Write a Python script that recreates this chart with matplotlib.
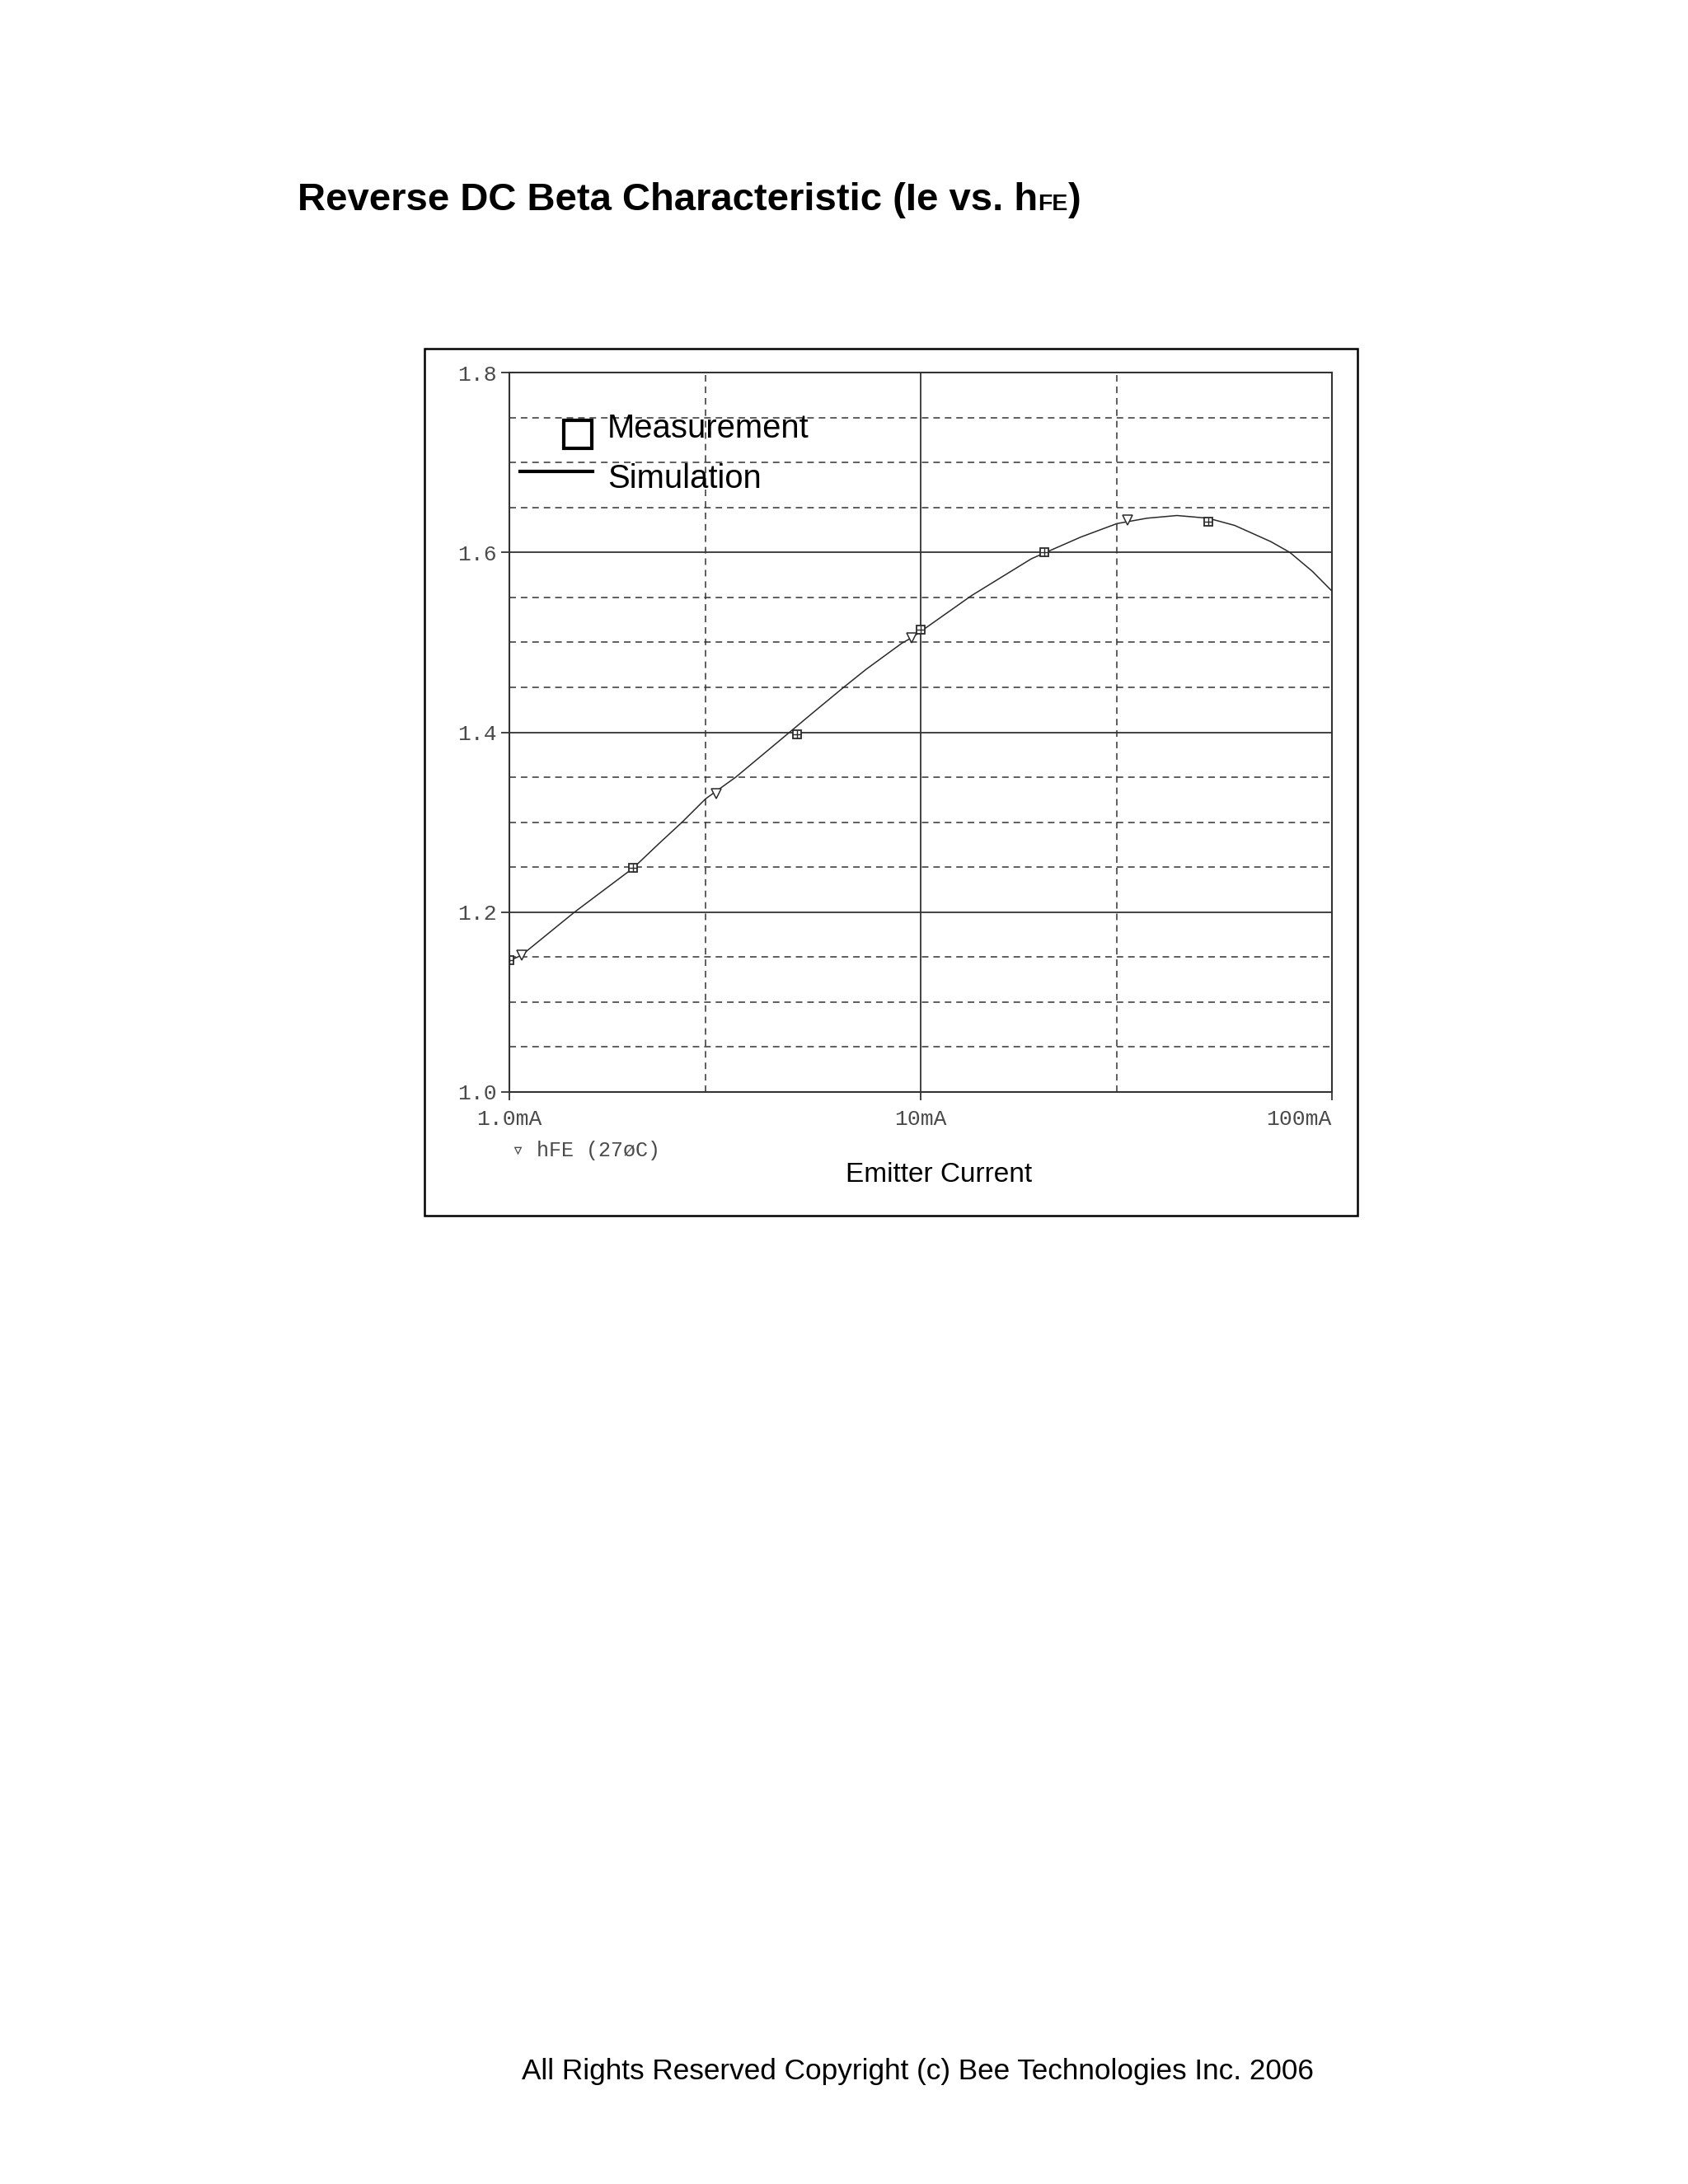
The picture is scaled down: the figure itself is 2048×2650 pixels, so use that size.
import numpy as np
import matplotlib
matplotlib.use("Agg")
import matplotlib.pyplot as plt
from matplotlib.patches import Rectangle
from matplotlib.lines import Line2D
from matplotlib.ticker import FixedLocator, NullFormatter

# ---------------- data ----------------
# Simulation trace (Emitter current in mA, hFE)
sim_current = [1.0, 1.07, 1.44, 2.0, 2.32, 2.63, 3.0, 3.55, 4.8, 5.58, 6.5, 7.37,
               9.0, 9.5, 10.0, 13.3, 18.6, 24.5, 30.0, 35.5, 42.0, 50.0, 58.0,
               71.0, 79.0, 89.6, 100.0]
sim_hfe = [1.146, 1.152, 1.200, 1.249, 1.277, 1.300, 1.326, 1.350, 1.400, 1.425,
           1.450, 1.470, 1.499, 1.505, 1.512, 1.552, 1.593, 1.617, 1.632, 1.638,
           1.641, 1.638, 1.630, 1.612, 1.600, 1.579, 1.557]
# PSpice trace symbols (down triangles) on the simulation curve
sym_current = [1.07, 3.19, 9.5, 31.9]
sym_hfe = [1.152, 1.332, 1.505, 1.636]
# Measurement points
meas_current = [1.0, 2.0, 5.0, 10.0, 20.0, 50.0]
meas_hfe = [1.147, 1.249, 1.398, 1.514, 1.600, 1.634]

x_major = [1.0, 10.0, 100.0]
x_major_labels = ["1.0mA", "10mA", "100mA"]
x_minor = [3.0, 30.0]
y_major = [1.0, 1.2, 1.4, 1.6, 1.8]
y_minor = [1.05, 1.1, 1.15, 1.25, 1.3, 1.35, 1.45, 1.5, 1.55, 1.65, 1.7, 1.75]

title_main = "Reverse DC Beta Characteristic (Ie vs. h"
title_sub = "FE"
title_end = ")"
xlabel = "Emitter Current"
trace_label = "\u25bf hFE (27\u00f8C)"
legend_meas = "Measurement"
legend_sim = "Simulation"
copyright_text = "All Rights Reserved Copyright (c) Bee Technologies Inc. 2006"

# ---------------- figure ----------------
W, H = 2048, 2650
DPI = 100
fig = plt.figure(figsize=(W / DPI, H / DPI), dpi=DPI)
fig.patch.set_facecolor("white")

def fx(px):
    return px / W

def fy(py_from_top):
    return 1 - py_from_top / H

SANS = ["Liberation Sans", "DejaVu Sans"]
MONO = ["Liberation Mono", "DejaVu Sans Mono"]
GRID = "#333333"
TXT_GRAY = "#4a4a4a"

# outer box
fig.patches.append(Rectangle((fx(515), fy(1475)), fx(1647 - 515), (1475 - 423) / H,
                             transform=fig.transFigure, fill=False,
                             edgecolor="black", linewidth=1.8, zorder=0))

ax_l, ax_r, ax_t, ax_b = 618, 1616, 452, 1325
ax = fig.add_axes([fx(ax_l), fy(ax_b), fx(ax_r - ax_l), (ax_b - ax_t) / H])
ax.set_xscale("log")
ax.set_xlim(1.0, 100.0)
ax.set_ylim(1.0, 1.8)

# ticks
ax.xaxis.set_major_locator(FixedLocator(x_major))
ax.xaxis.set_minor_locator(FixedLocator(x_minor))
ax.xaxis.set_minor_formatter(NullFormatter())
ax.set_xticklabels(x_major_labels)
ax.yaxis.set_major_locator(FixedLocator(y_major))
ax.yaxis.set_minor_locator(FixedLocator(y_minor))
ax.set_yticklabels([f"{v:.1f}" for v in y_major])

ax.tick_params(axis="x", which="major", direction="out", length=7.2, width=1.3,
               color=GRID, pad=8, labelsize=19, labelcolor=TXT_GRAY)
ax.tick_params(axis="y", which="major", direction="out", length=7.2, width=1.3,
               color=GRID, pad=4, labelsize=19, labelcolor=TXT_GRAY)
ax.tick_params(which="minor", length=0)
for lab in ax.get_xticklabels() + ax.get_yticklabels():
    lab.set_family(MONO)
xl = ax.get_xticklabels()
xl[-1].set_horizontalalignment("right")

# grid
ax.grid(which="major", axis="both", color=GRID, linestyle="-", linewidth=1.3)
ax.grid(which="minor", axis="both", color=GRID, linestyle=(0, (5.2, 3.9)), linewidth=1.1)
ax.set_axisbelow(True)
for sp in ax.spines.values():
    sp.set_color(GRID)
    sp.set_linewidth(1.5)

# curves
ax.plot(sim_current, sim_hfe, color="#2a2a2a", linewidth=1.1, zorder=3)
ax.plot(sym_current, sym_hfe, linestyle="none", marker="v", markersize=8,
        markerfacecolor="white", markeredgecolor="#2a2a2a", markeredgewidth=1.1, zorder=4)
ax.plot(meas_current, meas_hfe, linestyle="none", marker="s", markersize=7,
        markerfacecolor="white", markeredgecolor="#2a2a2a", markeredgewidth=1.3, zorder=5)
ax.plot(meas_current, meas_hfe, linestyle="none", marker="+", markersize=7,
        markeredgecolor="#2a2a2a", markeredgewidth=1.0, zorder=6)

# trace label under x-axis
fig.text(fx(621), fy(1396), trace_label, family=MONO, fontsize=18, color=TXT_GRAY,
         ha="left", va="center")

# x-axis label
fig.text(fx(1139), fy(1426), xlabel, family=SANS, fontsize=24, color="black",
         ha="center", va="center")

# legend (manually drawn)
fig.add_artist(Line2D([fx(701)], [fy(527)], marker="s", markersize=25,
                      markerfacecolor="none", markeredgecolor="black",
                      markeredgewidth=3.0, linestyle="none", transform=fig.transFigure))
fig.add_artist(Line2D([fx(631), fx(719)], [fy(572), fy(572)], color="black",
                      linewidth=3.0, transform=fig.transFigure))
fig.text(fx(737), fy(531), legend_meas, family=SANS, fontsize=28.8, ha="left", va="baseline")
fig.text(fx(737), fy(592), legend_sim, family=SANS, fontsize=28.8, ha="left", va="baseline")

# title with small "FE"
base_y = fy(255)
t1 = fig.text(fx(361), base_y, title_main, family=SANS, fontsize=34,
              fontweight="bold", ha="left", va="baseline")
t2 = plt.annotate(title_sub, xy=(1, base_y), xycoords=(t1, fig.transFigure),
                  family=SANS, fontsize=20.5, fontweight="bold", ha="left", va="baseline",
                  annotation_clip=False)
t3 = plt.annotate(title_end, xy=(1, base_y), xycoords=(t2, fig.transFigure),
                  family=SANS, fontsize=34, fontweight="bold", ha="left", va="baseline",
                  annotation_clip=False)

# copyright
fig.text(fx(1113), fy(2513), copyright_text, family=SANS, fontsize=25.3,
         ha="center", va="center")

fig.savefig("out.png", dpi=DPI, facecolor="white")
